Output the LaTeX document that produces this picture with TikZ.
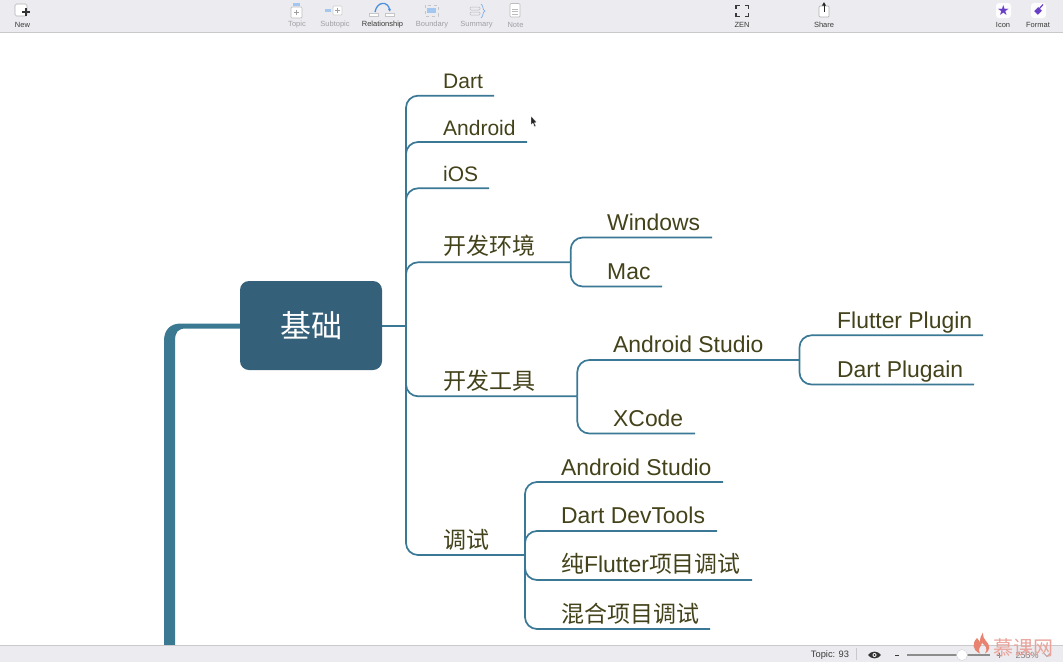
\documentclass[tikz,border=0pt]{standalone}
\usepackage{fontspec}
\usetikzlibrary{arrows.meta}
\setmainfont{Liberation Sans}
\newfontfamily\cjk{Noto Sans CJK SC}
\definecolor{linkc}{HTML}{3A7896}
\definecolor{rootc}{HTML}{346079}
\definecolor{trunkc}{HTML}{3B7891}
\definecolor{txt}{HTML}{43421A}
\definecolor{barc}{HTML}{ECEBEF}
\definecolor{barl}{HTML}{C9C9CB}
\definecolor{uitxt}{HTML}{3A3A3A}
\definecolor{uidim}{HTML}{A0A0A4}
\definecolor{wmark}{HTML}{E9A39A}
\definecolor{wflame}{HTML}{E8836F}
\definecolor{purp}{HTML}{6A3FC8}
\definecolor{iconb}{HTML}{4A8FE0}
\tikzset{
 topic/.style={anchor=base west,inner sep=0pt,text=txt,font=\fontsize{22.9}{23}\selectfont},
 stopic/.style={topic,font=\fontsize{21}{21}\selectfont},
 ctopic/.style={anchor=base west,inner sep=0pt,text=txt,font=\cjk\fontsize{23}{23}\selectfont},
 link/.style={draw=linkc,line width=1.7pt,rounded corners=12pt},
 stem/.style={draw=linkc,line width=1.7pt},
 ui/.style={inner sep=0pt,text=uitxt,font=\fontsize{7.5}{7.5}\selectfont},
 uid/.style={ui,text=uidim},
 tool/.style={draw=#1,line width=.7pt,fill=white,rounded corners=1pt},
}
\begin{document}
\begin{tikzpicture}[x=1pt,y=-1pt]
\useasboundingbox (0,0) rectangle (1063,662);
\fill[white] (0,0) rectangle (1063,662);
% trunk
\fill[trunkc] (240,323.5) -- (181,323.5) .. controls (170,323.5) and (164,330) .. (164,341) -- (164,646) -- (175,646) -- (175,341) .. controls (175,332) and (178,328.5) .. (186,328.5) -- (240,328.5) -- cycle;
% root
\coordinate (hubA) at (406,325.7);
\draw[stem] (311,325.7) -- (hubA);
\node[draw=none,fill=rootc,rounded corners=9pt,minimum width=142pt,minimum height=89pt,inner sep=0pt,text=white,font=\cjk\fontsize{31}{31}\selectfont] (root) at (311,325.5) {基础};
% hubs
\node[stopic] (dart) at (443,88.5) {Dart};
\node[stopic] (android) at (443,135) {Android};
\node[stopic] (ios) at (443,181.5) {iOS};
\node[ctopic] (env) at (443,254) {开发环境};
\node[ctopic] (tools) at (443,389) {开发工具};
\node[ctopic] (debug) at (443,548) {调试};
\coordinate (dartE) at (494,95.7);
\coordinate (androidE) at (527,142);
\coordinate (iosE) at (489,188.3);
\coordinate (envE) at (570.7,262.3);
\coordinate (toolsE) at (577.3,396.3);
\coordinate (debugE) at (525,555);
\foreach \e in {dartE,androidE,iosE,envE,toolsE,debugE}{\draw[link] (hubA) |- (\e);}
% env
\node[topic] (win) at (607,230) {Windows};
\node[topic] (mac) at (607,279) {Mac};
\coordinate (winE) at (712,237.5);
\coordinate (macE) at (662,286.5);
\draw[link] (envE) |- (winE);
\draw[link] (envE) |- (macE);
% tools
\node[topic] (as) at (613,352) {Android Studio};
\node[topic] (xcode) at (613,426) {XCode};
\coordinate (asE) at (799.5,360);
\coordinate (xcodeE) at (695,433.5);
\draw[link] (toolsE) |- (asE);
\draw[link] (toolsE) |- (xcodeE);
\node[topic] (fp) at (837,328) {Flutter Plugin};
\node[topic] (dp) at (837,377) {Dart Plugain};
\coordinate (fpE) at (983,335.3);
\coordinate (dpE) at (974,384.5);
\draw[link] (asE) |- (fpE);
\draw[link] (asE) |- (dpE);
% debug
\node[topic] (das) at (561,475) {Android Studio};
\node[topic] (ddt) at (561,523.5) {Dart DevTools};
\node[topic] (pure) at (561,572.5) {{\cjk 纯}Flutter{\cjk 项目调试}};
\node[ctopic] (mix) at (561,622) {混合项目调试};
\coordinate (dasE) at (723,482);
\coordinate (ddtE) at (717,531);
\coordinate (pureE) at (752,580);
\coordinate (mixE) at (710,629);
\foreach \e in {dasE,ddtE,pureE,mixE}{\draw[link] (debugE) |- (\e);}
% cursor
\fill[black!85,draw=white,line width=.4pt] (531,116) -- (531,125) -- (533,123.2) -- (534.5,127) -- (536,126.3) -- (534.4,122.8) -- (537,122.6) -- cycle;
% top bar
\fill[barc] (0,0) rectangle (1063,32);
\fill[barl] (0,32) rectangle (1063,33);
% New
\draw[tool=gray!60,rounded corners=1.5pt] (15,4) rectangle (27,16);
\draw[black!80,line width=1.2pt] (22,12) -- (30,12) (26,8) -- (26,16);
\node[ui] (tnew) at (22.5,25) {New};
% Topic
\draw[tool=uidim!70] (291,7) rectangle (302,18);
\fill[iconb!50] (293,3) rectangle (300,6);
\draw[uidim,line width=.5pt] (294,12.5)--(299,12.5) (296.5,10)--(296.5,15);
\node[uid] (ttopic) at (297,25) {Topic};
% Subtopic
\fill[iconb!50] (325,9) rectangle (331,12);
\draw[tool=uidim!50] (333,6) rectangle (342,15);
\draw[uidim,line width=.5pt] (335,10.5)--(340,10.5) (337.5,8)--(337.5,13);
\node[uid] (tsub) at (335,25) {Subtopic};
% Relationship
\draw[iconb,line width=1.3pt,-{Latex[length=3pt,width=3pt]}] (375,12) .. controls (377,1) and (388,1) .. (390,12);
\fill[white,draw=uidim!60,line width=.5pt] (369,13) rectangle (378,16) (385,13) rectangle (394,16);
\node[ui] (trel) at (382.5,25) {Relationship};
% Boundary
\draw[uidim!60,dashed,line width=.6pt] (425,5) rectangle (438,16);
\fill[iconb!50] (427,8) rectangle (436,13);
\node[uid] (tbou) at (432,25) {Boundary};
% Summary
\draw[uidim!70,line width=.5pt,rounded corners=1pt] (470,7) rectangle (480,10) (470,12) rectangle (480,15);
\draw[iconb!70,line width=.7pt] (481,4) .. controls (484,6) and (482,10) .. (485,11) .. controls (482,12) and (484,16) .. (481,18);
\node[uid] (tsum) at (476.5,25) {Summary};
% Note
\draw[tool=uidim!70] (510,3.5) rectangle (520,17);
\draw[uidim!70,line width=.5pt] (512,9)--(518,9) (512,11.5)--(518,11.5) (512,14)--(518,14);
\node[uid] (tnote) at (515.5,25) {Note};
% ZEN
\draw[uitxt,line width=1.1pt] (736,9) -- (736,5.5) -- (739.5,5.5) (745,5.5) -- (748.5,5.5) -- (748.5,9) (748.5,13) -- (748.5,16.5) -- (745,16.5) (739.5,16.5) -- (736,16.5) -- (736,13);
\node[ui] (tzen) at (742,25) {ZEN};
% Share
\draw[tool=gray!60] (819,6) rectangle (829,17);
\draw[black!85,line width=1pt,-{Latex[length=3.5pt,width=4.5pt]}] (824,12) -- (824,2);
\node[ui] (tshare) at (824,25) {Share};
% Icon
\fill[white!90!barc,rounded corners=3pt] (996,3) rectangle (1011,18);
\node[inner sep=0pt,text=purp,font=\fontsize{14}{14}\selectfont\fontspec{DejaVu Sans}] (star) at (1003.5,10.5) {★};
\node[ui] (ticon) at (1003,25) {Icon};
% Format
\fill[white!90!barc,rounded corners=3pt] (1031,3) rectangle (1046,18);
\draw[purp,line width=5pt] (1036,13) -- (1040,9);
\draw[purp,line width=1.2pt] (1039,9) -- (1043,4.5);
\node[ui] (tfor) at (1038,25) {Format};
% bottom bar
\fill[barc] (0,645) rectangle (1063,662);
\fill[barl] (0,644.5) rectangle (1063,645.3);
\node[ui,font=\fontsize{9.3}{9.3}\selectfont] (tcount) at (830,655) {Topic: 93};
\fill[barl] (856,648) rectangle (856.6,660);
\fill[black!80] (868,655) .. controls (871,650.5) and (878,650.5) .. (881,655) .. controls (878,659.5) and (871,659.5) .. (868,655) -- cycle;
\fill[white] (874.5,655) circle (2pt);
\fill[black!80] (874.5,655) circle (1.2pt);
\draw[uitxt,line width=.6pt] (895,655) -- (899,655);
\draw[gray!90,line width=1.3pt] (907,655) -- (990,655);
\coordinate (knobC) at (962,655);
\fill[white,draw=barl,line width=.3pt] (knobC) circle (5.5pt);
\draw[gray,line width=.6pt] (997,655) -- (1002,655) (999.5,652.5) -- (999.5,657.5);
\node[ui,text=gray,font=\fontsize{9}{9}\selectfont] (tzoom) at (1027,655) {255\%};
\draw[gray,line width=.6pt] (1044,653.5) -- (1047,656.5) -- (1050,653.5);
% watermark
\fill[wflame] (980,653.5) .. controls (972,650) and (972,643) .. (977,638) .. controls (979,640) and (979,641) .. (980,642) .. controls (980,638) and (981,635) .. (983,632.5) .. controls (983,637) and (984,639) .. (986,641) .. controls (990,645) and (991,650) .. (985,653.5) .. controls (988,649) and (986,646) .. (982,643) .. controls (981,647) and (977,649) .. (980,653.5) -- cycle;
\node[inner sep=0pt,text=wmark,font=\cjk\fontsize{20}{20}\selectfont] (wm) at (1023,647.5) {慕课网};
\end{tikzpicture}
\end{document}
